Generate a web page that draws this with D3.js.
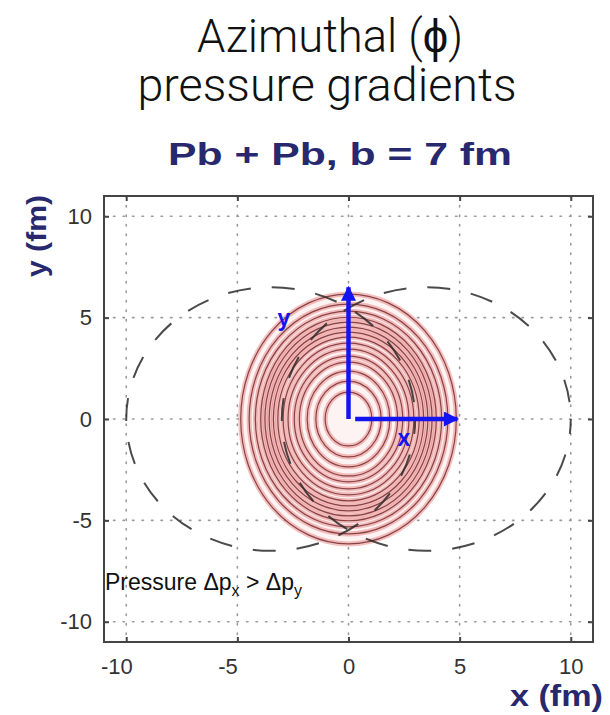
<!DOCTYPE html>
<html>
<head>
<meta charset="utf-8">
<script src="https://cdn.jsdelivr.net/npm/d3@7/dist/d3.min.js"></script>
<style>
  html, body { margin: 0; padding: 0; background: #ffffff; }
  svg { display: block; }
</style>
</head>
<body>
<svg id="chart" width="610" height="715"></svg>
<script>
// Axis ticks (fm)
const xTicks = [-10, -5, 0, 5, 10];
const yTicks = [-10, -5, 0, 5, 10];
const xTickLabels = ["-10", "-5", "0", "5", "10"];
const yTickLabels = ["-10", "-5", "0", "5", "10"];

// Overlap-zone density contours: semi-axes of each level line (fm), outermost first
const contourRx = [4.85, 4.47, 4.19, 3.95, 3.76, 3.57, 3.38, 3.18, 2.94, 2.72, 2.44, 2.21, 1.86, 1.47, 1.05];
const contourRy = [6.16, 5.67, 5.32, 5.02, 4.78, 4.53, 4.29, 4.04, 3.74, 3.45, 3.10, 2.81, 2.36, 1.87, 1.33];

// Two colliding Pb nuclei (hard-sphere outlines), centres at ±b/2
const nucleusCx = [-3.5, 3.5];
const nucleusR = [6.5, 6.5];

// Pressure-gradient direction arrows (fm)
const arrowFrom = [[0, 0], [0.3, 0]];
const arrowTo = [[0, 6.5], [4.9, 0]];
const arrowNames = ["y", "x"];

const svg = d3.select("#chart");
const x = d3.scaleLinear().domain([-11, 11]).range([104, 593]);
const y = d3.scaleLinear().domain([-11, 11]).range([642, 196]);

const navy = "#28286e";
const blue = "#1414f0";
const sans = "'Liberation Sans', Arial, sans-serif";

// Helper for text set to a fixed rendered width
function fitText(sel, w) {
  return sel.attr("textLength", w).attr("lengthAdjust", "spacingAndGlyphs");
}

// Titles
fitText(svg.append("text").attr("x", 330).attr("y", 52).attr("text-anchor", "middle")
  .attr("font-family", "Roboto, sans-serif").attr("font-weight", 300)
  .attr("font-size", 46).attr("fill", "#111").text("Azimuthal (ϕ)"), 266);
fitText(svg.append("text").attr("x", 327).attr("y", 101).attr("text-anchor", "middle")
  .attr("font-family", "Roboto, sans-serif").attr("font-weight", 300)
  .attr("font-size", 46).attr("fill", "#111").text("pressure gradients"), 379);
fitText(svg.append("text").attr("x", 340).attr("y", 165).attr("text-anchor", "middle")
  .attr("font-family", sans).attr("font-weight", "bold")
  .attr("font-size", 31).attr("fill", navy).text("Pb + Pb, b = 7 fm"), 344);

// Grid
const grid = svg.append("g").attr("stroke", "#9a9a9a").attr("stroke-width", 1.6)
  .attr("stroke-dasharray", "1.5,8").attr("stroke-linecap", "round");
grid.selectAll("line.gx").data(xTicks).join("line").attr("class", "gx")
  .attr("x1", d => x(d)).attr("x2", d => x(d)).attr("y1", y(11)).attr("y2", y(-11));
grid.selectAll("line.gy").data(yTicks).join("line").attr("class", "gy")
  .attr("y1", d => y(d)).attr("y2", d => y(d)).attr("x1", x(-11)).attr("x2", x(11));

// Density contours
const cont = svg.append("g").attr("transform", `translate(${x(0)},${y(0)})`);
const rings = contourRx.map((rx, i) => ({ rx: x(rx) - x(0), ry: y(0) - y(contourRy[i]) }));
cont.append("ellipse").attr("rx", rings[0].rx).attr("ry", rings[0].ry)
  .attr("fill", "#fdf3f3");
cont.selectAll("ellipse.halo").data(rings).join("ellipse").attr("class", "halo")
  .attr("rx", d => d.rx).attr("ry", d => d.ry)
  .attr("fill", "none").attr("stroke", "#e46a6a").attr("stroke-opacity", 0.42).attr("stroke-width", 5);
cont.selectAll("ellipse.line").data(rings).join("ellipse").attr("class", "line")
  .attr("rx", d => d.rx).attr("ry", d => d.ry)
  .attr("fill", "none").attr("stroke", "#864446").attr("stroke-width", 1.2);

// Nucleus outlines
svg.append("g").selectAll("ellipse").data(nucleusCx).join("ellipse")
  .attr("cx", d => x(d)).attr("cy", y(0))
  .attr("rx", (d, i) => x(nucleusR[i]) - x(0))
  .attr("ry", (d, i) => y(0) - y(nucleusR[i]))
  .attr("fill", "none").attr("stroke", "#2a2a2a").attr("stroke-opacity", 0.85).attr("stroke-width", 2)
  .attr("stroke-dasharray", "23,21").attr("stroke-dashoffset", 8);

// Frame
svg.append("rect").attr("x", x(-11)).attr("y", y(11))
  .attr("width", x(11) - x(-11)).attr("height", y(-11) - y(11))
  .attr("fill", "none").attr("stroke", "#444").attr("stroke-width", 2);

// Axes with inward ticks
function styleAxis(g) {
  g.select(".domain").remove();
  g.selectAll(".tick line").attr("stroke", "#444").attr("stroke-width", 2);
  g.selectAll(".tick text").attr("fill", "#333").attr("font-family", sans).attr("font-size", 22);
}
svg.append("g").attr("transform", `translate(0,${y(-11)})`)
  .call(d3.axisBottom(x).tickValues(xTicks).tickFormat((d, i) => xTickLabels[i]).tickSize(-5).tickPadding(16))
  .call(styleAxis)
  .call(g => g.selectAll(".tick text").attr("dx", d => d < 0 ? "-0.45em" : 0));
svg.append("g").attr("transform", `translate(${x(-11)},0)`)
  .call(d3.axisLeft(y).tickValues(yTicks).tickFormat((d, i) => yTickLabels[i]).tickSize(-5).tickPadding(12))
  .call(styleAxis);
svg.append("g").attr("transform", `translate(0,${y(11)})`)
  .call(d3.axisTop(x).tickValues(xTicks).tickFormat("").tickSize(-5)).call(styleAxis);
svg.append("g").attr("transform", `translate(${x(11)},0)`)
  .call(d3.axisRight(y).tickValues(yTicks).tickFormat("").tickSize(-5)).call(styleAxis);

// Axis titles
fitText(svg.append("text").attr("transform", "translate(46,236) rotate(-90)").attr("text-anchor", "middle")
  .attr("font-family", sans).attr("font-weight", "bold").attr("font-size", 27)
  .attr("fill", navy).text("y (fm)"), 82);
fitText(svg.append("text").attr("x", 603).attr("y", 706).attr("text-anchor", "end")
  .attr("font-family", sans).attr("font-weight", "bold").attr("font-size", 30)
  .attr("fill", navy).text("x (fm)"), 93);

// Arrows
const defs = svg.append("defs");
defs.append("marker").attr("id", "head").attr("viewBox", "0 0 10 10")
  .attr("refX", 9).attr("refY", 5).attr("markerUnits", "userSpaceOnUse")
  .attr("markerWidth", 17).attr("markerHeight", 15).attr("orient", "auto")
  .append("path").attr("d", "M0,0L10,5L0,10Z").attr("fill", blue);
svg.append("g").selectAll("line").data(arrowFrom).join("line")
  .attr("x1", d => x(d[0])).attr("y1", d => y(d[1]))
  .attr("x2", (d, i) => x(arrowTo[i][0])).attr("y2", (d, i) => y(arrowTo[i][1]))
  .attr("stroke", blue).attr("stroke-width", 4.5).attr("marker-end", "url(#head)");
svg.append("text").attr("x", 284).attr("y", 326).attr("text-anchor", "middle")
  .attr("font-family", sans).attr("font-weight", "bold").attr("font-size", 23)
  .attr("fill", blue).text(arrowNames[0]);
svg.append("text").attr("x", 404).attr("y", 446).attr("text-anchor", "middle")
  .attr("font-family", sans).attr("font-weight", "bold").attr("font-size", 23)
  .attr("fill", blue).text(arrowNames[1]);

// Annotation
const note = svg.append("text").attr("x", 105).attr("y", 590)
  .attr("font-family", sans).attr("font-size", 23).attr("fill", "#111");
note.append("tspan").text("Pressure Δp");
note.append("tspan").attr("font-size", 16).attr("dy", 6).text("x");
note.append("tspan").attr("dy", -6).text(" > Δp");
note.append("tspan").attr("font-size", 16).attr("dy", 6).text("y");
</script>
</body>
</html>
